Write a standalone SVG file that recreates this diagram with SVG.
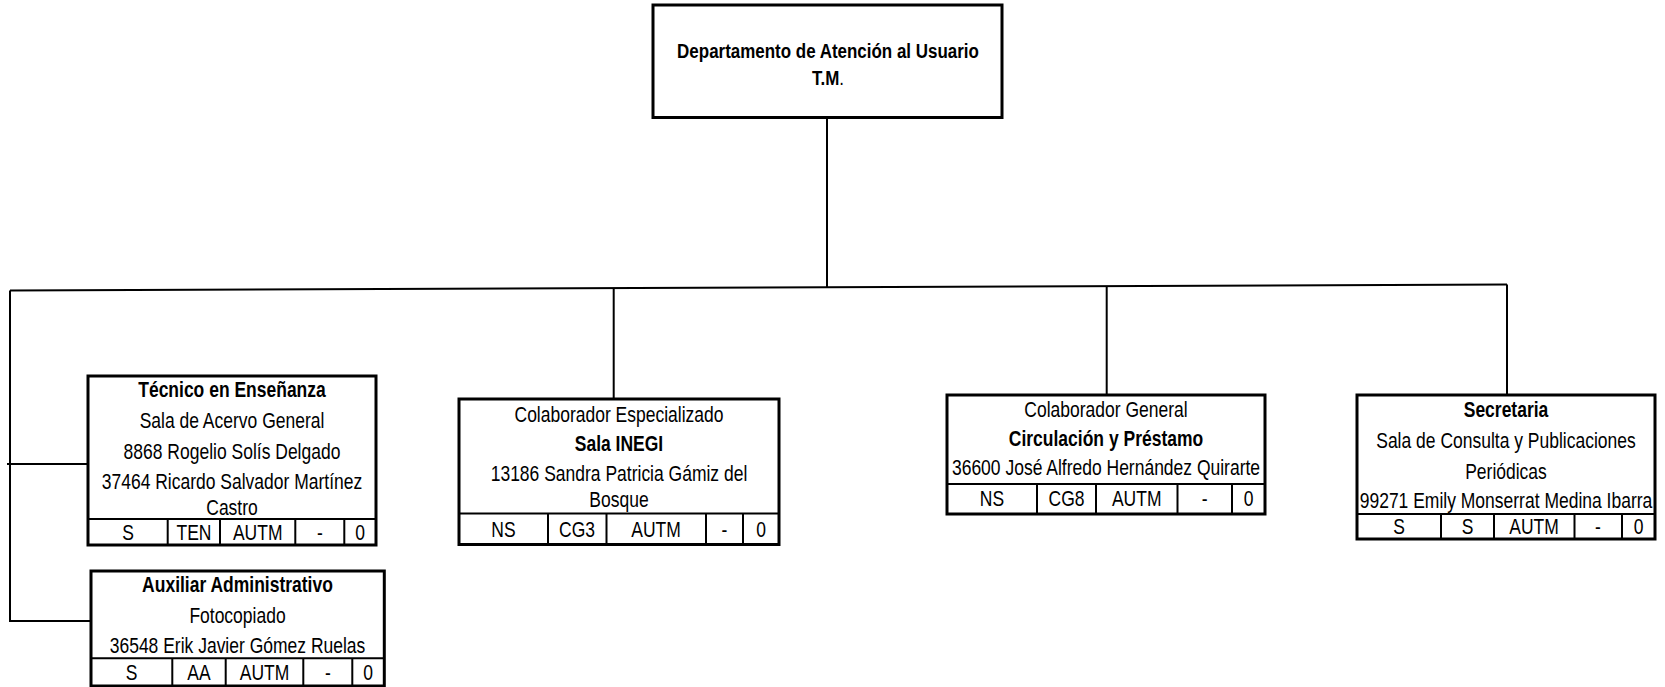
<svg xmlns="http://www.w3.org/2000/svg" width="1665" height="687" viewBox="0 0 1665 687">
<style>
.box{fill:#fff;stroke:#000;stroke-width:3}
.cell{stroke:#000;stroke-width:2;fill:none}
.conn{stroke:#000;stroke-width:2;fill:none}
text{font-family:'Liberation Sans',Arial,sans-serif;font-size:21.33px;text-anchor:middle;fill:#000}
.b{font-weight:bold}
.t{font-size:20.7px}
</style>
<rect width="1665" height="687" fill="#fff"/>
<g id="connectors">
<path class="conn" d="M10,290.5 L1507,284.5"/>
<path class="conn" d="M827,118 V287"/>
<path class="conn" d="M10,290.5 V621 H91"/>
<path class="conn" d="M7,464 H88"/>
<path class="conn" d="M613.7,288.3 V399"/>
<path class="conn" d="M1106.7,286 V395"/>
<path class="conn" d="M1507,284.5 V395"/>
</g>
<g id="top">
<rect class="box" x="653" y="5" width="349" height="112.5"/>
<text transform="translate(828,58) scale(0.82,1)" class="b t">Departamento de Atención al Usuario</text>
<text transform="translate(828,85) scale(0.82,1)" class="t"><tspan class="b">T.M</tspan>.</text>
</g>
<g id="tecnico">
<rect class="box" x="88" y="376" width="288" height="169"/>
<path class="cell" d="M88,519 H376 M167.7,519 V545 M220,519 V545 M295.3,519 V545 M344.3,519 V545"/>
<text transform="translate(232,397) scale(0.82,1)" class="b">Técnico en Enseñanza</text>
<text transform="translate(232,428) scale(0.82,1)">Sala de Acervo General</text>
<text transform="translate(232,459) scale(0.82,1)">8868 Rogelio Solís Delgado</text>
<text transform="translate(232,489) scale(0.82,1)">37464 Ricardo Salvador Martínez</text>
<text transform="translate(232,515) scale(0.82,1)">Castro</text>
<text transform="translate(128,540) scale(0.82,1)">S</text>
<text transform="translate(194,540) scale(0.82,1)">TEN</text>
<text transform="translate(257.7,540) scale(0.82,1)">AUTM</text>
<text transform="translate(319.8,540) scale(0.82,1)">-</text>
<text transform="translate(360,540) scale(0.82,1)">0</text>
</g>
<g id="auxiliar">
<rect class="box" x="91" y="571" width="293.3" height="115"/>
<path class="cell" d="M91,658.3 H384.3 M172.3,658.3 V686 M225.7,658.3 V686 M303.3,658.3 V686 M352.3,658.3 V686"/>
<text transform="translate(237.5,592) scale(0.82,1)" class="b">Auxiliar Administrativo</text>
<text transform="translate(237.5,623) scale(0.82,1)">Fotocopiado</text>
<text transform="translate(237.5,653) scale(0.82,1)">36548 Erik Javier Gómez Ruelas</text>
<text transform="translate(131.7,680) scale(0.82,1)">S</text>
<text transform="translate(199,680) scale(0.82,1)">AA</text>
<text transform="translate(264.5,680) scale(0.82,1)">AUTM</text>
<text transform="translate(327.8,680) scale(0.82,1)">-</text>
<text transform="translate(368,680) scale(0.82,1)">0</text>
</g>
<g id="inegi">
<rect class="box" x="459" y="399" width="320" height="145.5"/>
<path class="cell" d="M459,513.5 H779 M548,513.5 V544.5 M606.5,513.5 V544.5 M706,513.5 V544.5 M743,513.5 V544.5"/>
<text transform="translate(619,421.5) scale(0.82,1)">Colaborador Especializado</text>
<text transform="translate(619,451) scale(0.82,1)" class="b">Sala INEGI</text>
<text transform="translate(619,480.5) scale(0.82,1)">13186 Sandra Patricia Gámiz del</text>
<text transform="translate(619,507) scale(0.82,1)">Bosque</text>
<text transform="translate(503.5,536.5) scale(0.82,1)">NS</text>
<text transform="translate(577,536.5) scale(0.82,1)">CG3</text>
<text transform="translate(656,536.5) scale(0.82,1)">AUTM</text>
<text transform="translate(724.5,536.5) scale(0.82,1)">-</text>
<text transform="translate(761,536.5) scale(0.82,1)">0</text>
</g>
<g id="circulacion">
<rect class="box" x="947" y="395" width="318" height="119"/>
<path class="cell" d="M947,484 H1265 M1037,484 V514 M1096,484 V514 M1177.5,484 V514 M1232,484 V514"/>
<text transform="translate(1106,416.7) scale(0.82,1)">Colaborador General</text>
<text transform="translate(1106,446) scale(0.82,1)" class="b">Circulación y Préstamo</text>
<text transform="translate(1106,475) scale(0.82,1)">36600 José Alfredo Hernández Quirarte</text>
<text transform="translate(992,506) scale(0.82,1)">NS</text>
<text transform="translate(1066.5,506) scale(0.82,1)">CG8</text>
<text transform="translate(1136.7,506) scale(0.82,1)">AUTM</text>
<text transform="translate(1204.7,506) scale(0.82,1)">-</text>
<text transform="translate(1248.5,506) scale(0.82,1)">0</text>
</g>
<g id="secretaria">
<rect class="box" x="1357" y="395" width="298" height="144"/>
<path class="cell" d="M1357,514 H1655 M1441,514 V539 M1494,514 V539 M1574.5,514 V539 M1622,514 V539"/>
<text transform="translate(1506,417) scale(0.82,1)" class="b">Secretaria</text>
<text transform="translate(1506,448) scale(0.82,1)">Sala de Consulta y Publicaciones</text>
<text transform="translate(1506,479) scale(0.82,1)">Periódicas</text>
<text transform="translate(1506,508) scale(0.82,1)">99271 Emily Monserrat Medina Ibarra</text>
<text transform="translate(1399,534) scale(0.82,1)">S</text>
<text transform="translate(1467.5,534) scale(0.82,1)">S</text>
<text transform="translate(1534,534) scale(0.82,1)">AUTM</text>
<text transform="translate(1598,534) scale(0.82,1)">-</text>
<text transform="translate(1638.5,534) scale(0.82,1)">0</text>
</g>
</svg>
